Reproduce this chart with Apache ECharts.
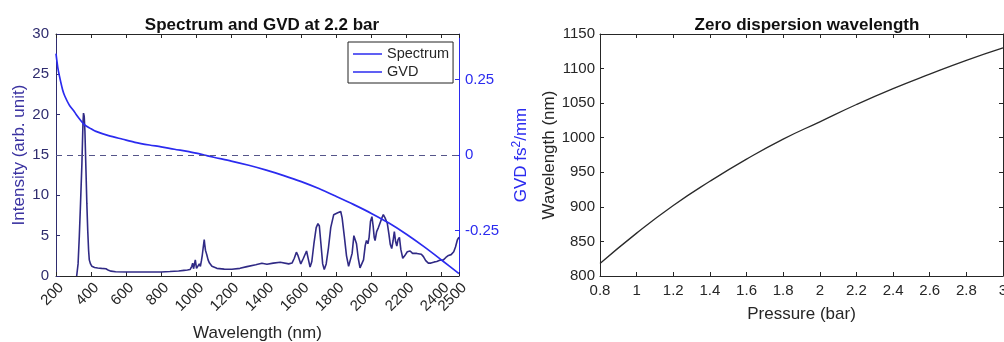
<!DOCTYPE html>
<html><head><meta charset="utf-8">
<script src="https://cdn.jsdelivr.net/npm/echarts@6/dist/echarts.min.js"></script>
<style>html,body{margin:0;padding:0;background:#fff}#c{width:1004px;height:342px}</style>
</head><body><div id="c"></div>
<script>
// Spectrum (left plot, left axis)
const specWl = [318,326,333,340,348,354,357,361,365,371,376,381,386,390,397,405,420,438,460,485,500,514,540,600,700,800,850,900,930,950,965,975,980,985,990,995,1002,1010,1018,1024,1030,1035,1040,1046,1049,1053,1057,1061,1068,1076,1090,1118,1160,1204,1250,1290,1340,1375,1404,1440,1480,1528,1547,1560,1572,1580,1597,1612,1630,1640,1650,1660,1672,1685,1695,1703,1712,1722,1731,1742,1755,1768,1785,1795,1805,1815,1825,1833,1845,1858,1870,1878,1890,1900,1907,1915,1925,1935,1945,1955,1965,1972,1980,1987,1995,2003,2010,2016,2021,2030,2040,2050,2060,2068,2078,2091,2100,2108,2116,2124,2131,2138,2145,2152,2160,2168,2179,2190,2205,2221,2235,2245,2259,2270,2285,2297,2310,2325,2340,2360,2373,2390,2411,2425,2440,2455,2470,2480,2491,2500];
const specInt = [0,1.5,4.9,9,14.0,19.0,20.2,19.8,18.0,13.1,9,5.7,3.2,2.0,1.5,1.2,1.05,1.0,0.95,0.9,0.7,0.6,0.52,0.5,0.5,0.5,0.55,0.62,0.7,0.75,0.8,1.2,1.6,0.9,0.8,2.0,0.95,1.1,1.5,1.2,1.9,2.6,3.5,4.5,3.9,3.2,2.9,2.6,2.0,1.6,1.2,0.95,0.85,0.83,0.95,1.16,1.4,1.57,1.45,1.6,1.7,1.5,1.6,2.2,2.95,2.6,1.5,2.2,3.1,2.1,1.1,1.8,4.0,6.0,6.5,6.2,4.0,1.5,0.8,1.5,3.5,6.0,7.6,7.4,7.8,7.6,8.0,7.2,5.0,2.5,1.2,1.1,2.8,5.0,5.2,4.0,2.2,1.0,0.8,2.0,3.8,4.4,4.0,4.8,6.8,7.35,6.2,4.8,4.4,5.5,6.0,6.6,7.2,7.6,7.2,6.5,5.2,3.9,3.4,4.4,5.5,4.3,3.7,4.5,4.8,3.3,2.2,2.5,3.0,3.1,2.8,3.0,2.8,2.6,2.7,2.4,1.9,1.6,1.6,1.75,1.8,1.95,2.0,2.3,2.55,2.65,3.0,3.6,4.5,4.8];
// GVD (left plot, right axis)
const gvdWl = [200,210,220,238,250,276,300,314,340,362,400,428,500,581,650,733,800,876,950,1000,1045,1100,1200,1300,1400,1500,1600,1700,1800,1900,2000,2100,2200,2300,2400,2500];
const gvdVal = [0.335,0.29,0.26,0.215,0.195,0.165,0.147,0.135,0.115,0.100,0.087,0.078,0.064,0.052,0.042,0.033,0.027,0.019,0.012,0.006,0,-0.0075,-0.020,-0.034,-0.050,-0.068,-0.088,-0.111,-0.137,-0.164,-0.193,-0.225,-0.262,-0.303,-0.347,-0.392];
const gvdTicks = [-0.25, 0, 0.25];
const wlTicks = [200,400,600,800,1000,1200,1400,1600,1800,2000,2200,2400,2500];
const wlLabelsMain = [200,400,600,800,1000,1200,1400,1600,1800,2000,2200,2400];
const wlLabelsEnd = [2500];
// Zero dispersion wavelength (right plot)
const pressure = [0.8,1.0,1.2,1.4,1.6,1.8,2.0,2.2,2.4,2.6,2.8,3.0];
const zdw = [818,862,902,937,969,998,1023,1048,1071,1092,1112,1130];

const FONT = '"Liberation Sans", Arial, sans-serif';
const dark = '#262626';
const navy = '#2f2c6e';
const purple = '#3a32a0';
const blue = '#2b2bef';
const specColor = '#302a85';
const plain = v => String(+(+v).toFixed(4));

const tickIn = {show:true, inside:true, length:4, lineStyle:{color:dark}};
const lineDark = {show:true, onZero:false, lineStyle:{color:dark}};
const wlLabel = vals => ({rotate:45, align:'right', verticalAlign:'top', customValues:vals, formatter:plain,
       showMinLabel:true, showMaxLabel:true, hideOverlap:false,
       fontSize:15, color:dark, margin:4, fontFamily:FONT});
const chart = echarts.init(document.getElementById('c'), null, {renderer:'canvas'});
chart.setOption({
  animation:false,
  backgroundColor:'#fff',
  textStyle:{fontFamily:FONT},
  title:[
    {text:'Spectrum and GVD at 2.2 bar', left:257, top:12, textAlign:'center',
     textStyle:{fontSize:17, fontWeight:'bold', color:'#111', fontFamily:FONT}},
    {text:'Zero dispersion wavelength', left:802, top:12, textAlign:'center',
     textStyle:{fontSize:17, fontWeight:'bold', color:'#111', fontFamily:FONT}}
  ],
  legend:{
    orient:'vertical', left:348, top:42, itemWidth:29, itemHeight:1.5, itemGap:2,
    icon:'rect',
    padding:[4,4,3,5], borderColor:'#222', borderWidth:1, backgroundColor:'#fff',
    textStyle:{fontSize:14.5, color:dark, fontFamily:FONT, lineHeight:16},
    data:[{name:'Spectrum', itemStyle:{color:blue}},
          {name:'GVD', itemStyle:{color:blue}}]
  },
  grid:[
    {left:56, right:545, top:34, bottom:66, outerBoundsMode:'none', containLabel:false},
    {left:600, right:1, top:34, bottom:66, outerBoundsMode:'none', containLabel:false}
  ],
  xAxis:[
    {type:'value', gridIndex:0, min:200, max:2500, position:'bottom',
     name:'Wavelength (nm)', nameLocation:'middle', nameGap:49,
     nameTextStyle:{fontSize:17, color:dark, fontFamily:FONT},
     axisLine:lineDark,
     axisTick:{show:true, inside:true, length:4, customValues:wlTicks, lineStyle:{color:dark}},
     splitLine:{show:false},
     axisLabel:wlLabel(wlLabelsMain)},
    {type:'value', gridIndex:0, min:200, max:2500, position:'top',
     axisLine:lineDark,
     axisTick:{show:true, inside:true, length:4, customValues:wlTicks, lineStyle:{color:dark}},
     splitLine:{show:false}, axisLabel:{show:false}},
    {type:'value', gridIndex:1, min:0.8, max:3, interval:0.2, position:'bottom',
     name:'Pressure (bar)', nameLocation:'middle', nameGap:30,
     nameTextStyle:{fontSize:17, color:dark, fontFamily:FONT},
     axisLine:lineDark, axisTick:tickIn, splitLine:{show:false},
     axisLabel:{fontSize:15, color:dark, margin:7, formatter:plain, showMaxLabel:true, fontFamily:FONT}},
    {type:'value', gridIndex:1, min:0.8, max:3, interval:0.2, position:'top',
     axisLine:lineDark, axisTick:tickIn, splitLine:{show:false},
     axisLabel:{show:false}},
    {type:'value', gridIndex:0, min:200, max:2500, position:'bottom', offset:0,
     axisLine:{show:false, onZero:false}, axisTick:{show:false}, splitLine:{show:false},
     axisLabel:wlLabel(wlLabelsEnd)}
  ],
  yAxis:[
    {type:'value', gridIndex:0, min:0, max:30, interval:5, position:'left',
     name:'Intensity (arb. unit)', nameLocation:'middle', nameGap:28,
     nameTextStyle:{fontSize:17, color:purple, fontFamily:FONT},
     axisLine:{show:true, onZero:false, lineStyle:{color:navy}},
     axisTick:{show:true, inside:true, length:4, lineStyle:{color:navy}},
     splitLine:{show:false},
     axisLabel:{fontSize:15, color:navy, margin:7, fontFamily:FONT}},
    {type:'value', gridIndex:0, min:-0.4, max:0.4, position:'right',
     name:'{a|GVD fs}{s|2}{a|/mm}', nameLocation:'middle', nameGap:52,
     nameTextStyle:{fontSize:17, color:blue, fontFamily:FONT,
       rich:{a:{fontSize:17, color:blue, fontFamily:FONT, lineHeight:20},
             s:{fontSize:12, color:blue, fontFamily:FONT, verticalAlign:'top', lineHeight:20}}},
     axisLine:{show:true, onZero:false, lineStyle:{color:blue}},
     axisTick:{show:true, inside:true, length:4, customValues:gvdTicks, lineStyle:{color:blue}},
     splitLine:{show:false},
     axisLabel:{fontSize:15, color:blue, margin:6, customValues:gvdTicks, formatter:plain, fontFamily:FONT}},
    {type:'value', gridIndex:1, min:800, max:1150, interval:50, position:'left',
     name:'Wavelength (nm)', nameLocation:'middle', nameGap:42,
     nameTextStyle:{fontSize:17, color:dark, fontFamily:FONT},
     axisLine:lineDark, axisTick:tickIn, splitLine:{show:false},
     axisLabel:{fontSize:15, color:dark, margin:5, formatter:plain, fontFamily:FONT}},
    {type:'value', gridIndex:1, min:800, max:1150, interval:50, position:'right',
     axisLine:lineDark, axisTick:tickIn, splitLine:{show:false},
     axisLabel:{show:false}}
  ],
  series:[
    {name:'Spectrum', type:'line', xAxisIndex:0, yAxisIndex:0, symbol:'none',
     lineStyle:{color:specColor, width:1.6}, itemStyle:{color:specColor},
     data:specWl.map((w,i)=>[w, specInt[i]])},
    {name:'GVD', type:'line', xAxisIndex:0, yAxisIndex:1, symbol:'none', smooth:0.3,
     lineStyle:{color:blue, width:1.7}, itemStyle:{color:blue},
     data:gvdWl.map((w,i)=>[w, gvdVal[i]]),
     markLine:{silent:true, symbol:'none', label:{show:false},
       lineStyle:{color:'#55558a', type:[6,5], width:1},
       data:[{yAxis:0}]}},
    {name:'ZDW', type:'line', xAxisIndex:2, yAxisIndex:2, symbol:'none', smooth:true,
     lineStyle:{color:'#2a2a2a', width:1.3},
     data:pressure.map((p,i)=>[p, zdw[i]])}
  ]
});
</script></body></html>
